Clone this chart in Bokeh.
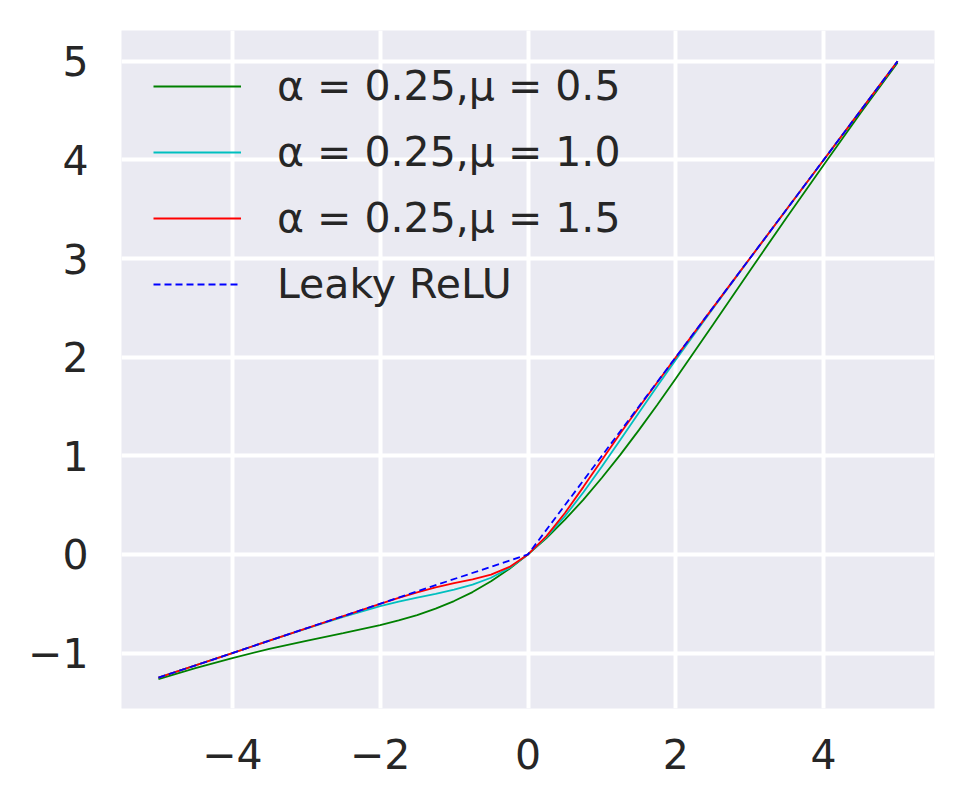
from bokeh.plotting import figure
from bokeh.models import Range1d, FixedTicker, Legend, LegendItem
from bokeh.embed import file_html
from bokeh.resources import INLINE

# ---- data ----
x_vals = [-5, -4.5, -4, -3.5, -3, -2.5, -2, -1.75, -1.5, -1.25, -1, -0.75, -0.5, -0.25,
          0, 0.25, 0.5, 0.75, 1, 1.25, 1.5, 1.75, 2, 2.5, 3, 3.5, 4, 4.5, 5]
y_mu05 = [-1.265, -1.154, -1.051, -0.958, -0.876, -0.798, -0.717, -0.669, -0.615, -0.550,
          -0.473, -0.382, -0.273, -0.146, 0.0, 0.166, 0.352, 0.556, 0.777, 1.012, 1.260,
          1.518, 1.783, 2.327, 2.874, 3.417, 3.949, 4.476, 4.985]
y_mu10 = [-1.250, -1.125, -1.000, -0.875, -0.752, -0.633, -0.525, -0.479, -0.438, -0.399,
          -0.358, -0.307, -0.237, -0.137, 0.0, 0.176, 0.388, 0.630, 0.892, 1.163, 1.437,
          1.708, 1.975, 2.492, 2.998, 3.500, 4.000, 4.500, 5.000]
y_mu15 = [-1.250, -1.125, -1.000, -0.875, -0.750, -0.625, -0.501, -0.441, -0.385, -0.334,
          -0.292, -0.253, -0.205, -0.127, 0.0, 0.185, 0.420, 0.685, 0.958, 1.228, 1.490,
          1.746, 1.999, 2.500, 3.000, 3.500, 4.000, 4.500, 5.000]
x_leaky = [-5, 0, 5]
y_leaky = [-1.25, 0, 5]

labels = ["α = 0.25,μ = 0.5", "α = 0.25,μ = 1.0", "α = 0.25,μ = 1.5", "Leaky ReLU"]
x_ticks = [-4, -2, 0, 2, 4]
y_ticks = [-1, 0, 1, 2, 3, 4, 5]

FONT = "DejaVu Sans"
TXT = "#262626"

p = figure(width=948, height=794, output_backend="svg", toolbar_location=None,
           x_range=Range1d(-5.5, 5.5), y_range=Range1d(-1.5625, 5.3125),
           min_border_left=121, min_border_right=14, min_border_top=30, min_border_bottom=86)
p.background_fill_color = "#EAEAF2"
p.border_fill_color = "white"
p.outline_line_color = None

for ax in (p.xaxis, p.yaxis):
    ax.axis_line_color = None
    ax.major_tick_line_color = None
    ax.minor_tick_line_color = None
    ax.major_label_text_font = FONT
    ax.major_label_text_font_size = "41px"
    ax.major_label_text_color = TXT

p.xaxis.ticker = FixedTicker(ticks=x_ticks)
p.yaxis.ticker = FixedTicker(ticks=y_ticks)
p.xaxis.major_label_overrides = {t: (str(t).replace("-", "\u2212")) for t in x_ticks}
p.yaxis.major_label_overrides = {t: (str(t).replace("-", "\u2212")) for t in y_ticks}
p.xaxis.major_label_standoff = 24
p.yaxis.major_label_standoff = 27

p.xgrid.grid_line_color = "white"
p.ygrid.grid_line_color = "white"
p.xgrid.grid_line_width = 4
p.ygrid.grid_line_width = 4

r1 = p.line(x_vals, y_mu05, line_color="#008000", line_width=1.8)
r2 = p.line(x_vals, y_mu10, line_color="#00BFBF", line_width=1.8)
r3 = p.line(x_vals, y_mu15, line_color="#FF0000", line_width=1.8)
r4 = p.line(x_leaky, y_leaky, line_color="#0000FF", line_width=1.8, line_dash="7 4")

legend = Legend(items=[LegendItem(label=l, renderers=[r]) for l, r in zip(labels, [r1, r2, r3, r4])],
                location="top_left")
legend.background_fill_alpha = 0
legend.border_line_alpha = 0
legend.label_text_font = FONT
legend.label_text_font_size = "41px"
legend.label_text_color = TXT
legend.glyph_width = 88
legend.glyph_height = 40
legend.label_height = 40
legend.label_standoff = 36
legend.spacing = 18
legend.padding = 32
legend.margin = 0
p.add_layout(legend)

open("out.html", "w").write(file_html(p, INLINE))
